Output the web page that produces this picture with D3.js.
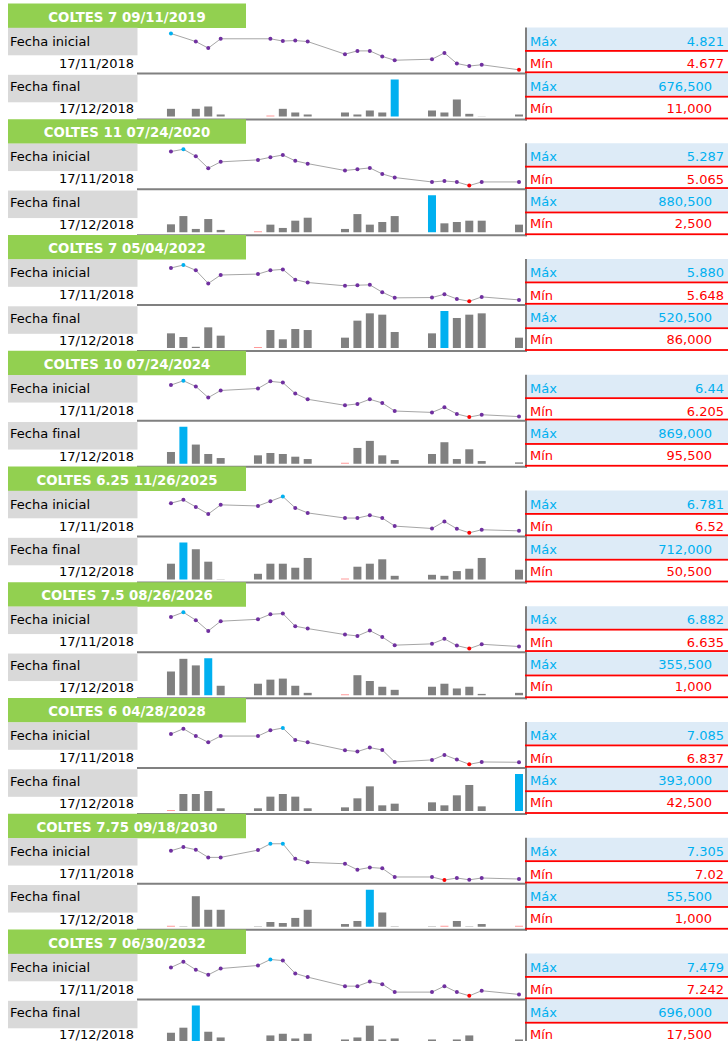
<!DOCTYPE html>
<html lang="es">
<head>
<meta charset="UTF-8">
<title>COLTES - precios y volúmenes</title>
<script src="https://d3js.org/d3.v7.min.js"></script>
<style>
  body { margin: 0; background: #fff; }
  svg { display: block; font-family: "DejaVu Sans", sans-serif; }
</style>
</head>
<body>
<svg id="chart" width="728" height="1041"></svg>
<script>
// titulos de cada bono
const titulos = [
  "COLTES 7 09/11/2019", "COLTES 11 07/24/2020", "COLTES 7 05/04/2022",
  "COLTES 10 07/24/2024", "COLTES 6.25 11/26/2025", "COLTES 7.5 08/26/2026",
  "COLTES 6 04/28/2028", "COLTES 7.75 09/18/2030", "COLTES 7 06/30/2032"
]

const fechaInicial = "2018-11-17"
const fechaFinal = "2018-12-17"

// dias habiles con datos
const fechas = [
  "2018-11-19", "2018-11-20", "2018-11-21", "2018-11-22", "2018-11-23",
  "2018-11-26", "2018-11-27", "2018-11-28", "2018-11-29", "2018-11-30",
  "2018-12-03", "2018-12-04", "2018-12-05", "2018-12-06", "2018-12-07",
  "2018-12-10", "2018-12-11", "2018-12-12", "2018-12-13", "2018-12-14",
  "2018-12-17"
]

// tasas (una fila por bono, null = sin dato)
const precios = [
  [4.821, null, 4.789, 4.763, 4.800, null, 4.800, 4.791, 4.793, 4.789, 4.739, 4.752, 4.752, 4.730, 4.715, 4.719, 4.744, 4.702, 4.692, 4.697, 4.677],
  [5.273, 5.287, 5.244, 5.171, 5.210, 5.222, 5.238, 5.252, 5.216, 5.199, 5.157, 5.165, 5.173, 5.136, 5.114, 5.087, 5.093, 5.087, 5.065, 5.087, 5.087],
  [5.861, 5.880, 5.846, 5.762, 5.816, 5.822, 5.846, 5.852, 5.786, 5.768, 5.747, 5.751, 5.753, 5.706, 5.670, 5.672, 5.693, 5.663, 5.648, 5.676, 5.657],
  [6.412, 6.44, 6.403, 6.331, 6.377, 6.390, 6.436, 6.428, 6.357, 6.320, 6.281, 6.290, 6.320, 6.296, 6.244, 6.235, 6.268, 6.225, 6.205, 6.220, 6.208],
  [6.733, 6.757, 6.706, 6.655, 6.721, 6.713, 6.747, 6.781, 6.699, 6.663, 6.626, 6.626, 6.646, 6.626, 6.568, 6.551, 6.602, 6.549, 6.52, 6.542, 6.534],
  [6.850, 6.882, 6.828, 6.755, 6.821, 6.834, 6.868, 6.873, 6.787, 6.771, 6.730, 6.721, 6.757, 6.714, 6.658, 6.667, 6.701, 6.655, 6.635, 6.664, 6.649],
  [7.044, 7.080, 7.030, 6.987, 7.030, 7.030, 7.069, 7.085, 7.003, 6.987, 6.933, 6.924, 6.951, 6.935, 6.853, 6.867, 6.901, 6.869, 6.837, 6.853, 6.851],
  [7.250, 7.279, 7.258, 7.198, 7.198, 7.255, 7.305, 7.305, 7.187, 7.159, 7.148, 7.101, 7.119, 7.112, 7.044, 7.044, 7.02, 7.036, 7.022, 7.036, 7.028],
  [7.427, 7.464, 7.412, 7.379, 7.420, 7.440, 7.479, 7.472, 7.388, 7.364, 7.305, 7.305, 7.335, 7.318, 7.266, 7.266, 7.305, 7.266, 7.242, 7.275, 7.251]
]

// como se muestran los maximos y minimos de tasa en la tabla
const tasaMaxTxt = ["4.821", "5.287", "5.880", "6.44", "6.781", "6.882", "7.085", "7.305", "7.479"]
const tasaMinTxt = ["4.677", "5.065", "5.648", "6.205", "6.52", "6.635", "6.837", "7.02", "7.242"]

// volumenes negociados
const volumenes = [
  [149000, null, 149000, 191000, 47000, null, 11000, 149000, 83000, 47000, 83000, 47000, 119000, 83000, 676500, 119000, 83000, 317000, 59000, 14000, 47000],
  [190500, 386500, 81000, 316000, 57500, 2500, 183000, 104500, 277000, 347500, 81000, 433500, 183000, 245500, 386500, 880500, 214000, 245500, 277000, 277000, 183000],
  [258000, 215000, 100000, 328500, 231000, 86000, 297000, 188000, 309000, 297000, 207500, 407000, 493000, 477500, 274000, 258000, 520500, 438500, 477500, 493000, 207500],
  [341500, 869000, 496500, 299500, 215000, 271500, 320500, 299500, 243000, 194000, 95500, 426000, 573500, 271500, 173000, 299500, 545500, 194000, 398000, 152000, 123500],
  [333000, 712000, 591500, 369000, 55000, 152500, 333000, 333000, 261000, 435500, 50500, 279000, 333000, 411500, 116500, 134500, 116500, 201000, 243000, 435500, 225000],
  [228500, 350000, 287000, 355500, 92000, 111500, 150500, 160500, 92000, 24000, 1000, 193000, 137500, 82500, 53000, 82500, 111500, 66000, 82500, 14000, 24000],
  [42500, 203500, 203500, 232000, 68000, 68000, 178500, 203500, 178500, 68000, 77000, 162500, 276000, 96000, 112000, 124500, 96000, 191000, 289000, 86500, 393000],
  [1000, 1500, 46000, 26000, 26000, 1500, 8000, 6500, 14000, 26000, 5000, 9500, 55500, 22000, 1500, 1500, 1000, 9500, 1500, 5000, 1000],
  [196500, 289000, 696000, 215000, 110000, 20000, 147000, 178000, 91500, 178000, 73000, 110000, 326000, 73000, 91500, 73000, 20000, 73000, 147000, 17500, 73000]
]

const parse = d3.timeParse("%Y-%m-%d")
const fmtFecha = d3.timeFormat("%d/%m/%Y")
const fmtVol = d3.format(",")

const dias = fechas.map(parse)
const x = d3.scaleTime()
  .domain([parse(fechaInicial), parse(fechaFinal)])
  .range([146.1, 519])

const svg = d3.select("#chart")

const verde = "#92d050", grisClaro = "#d9d9d9", grisLinea = "#808080"
const cian = "#00b0f0", rojo = "#ff0000", morado = "#7030a0", azulClaro = "#ddebf7"

titulos.forEach(function (titulo, i) {
  const g = svg.append("g").attr("transform", "translate(0," + (4 + i * 115.75) + ")")
  const p = precios[i], v = volumenes[i]

  // lineas de separacion
  g.append("rect").attr("x", 137).attr("y", 68.5).attr("width", 390).attr("height", 2).attr("fill", grisLinea)
  g.append("rect").attr("x", 137).attr("y", 114.5).attr("width", 390).attr("height", 2).attr("fill", grisLinea)
  g.append("rect").attr("x", 525).attr("y", 23.5).attr("width", 2).attr("height", 93).attr("fill", grisLinea)

  // encabezado
  g.append("rect").attr("x", 8).attr("y", -0.5).attr("width", 238).attr("height", 24.5).attr("fill", verde)
  g.append("text").attr("x", 127).attr("y", 17.5).attr("text-anchor", "middle")
    .attr("fill", "#fff").attr("font-weight", "bold").attr("font-size", 13.3).text(titulo)

  // etiquetas de la izquierda
  g.append("rect").attr("x", 8).attr("y", 23.8).attr("width", 129.5).attr("height", 27.5).attr("fill", grisClaro)
  g.append("rect").attr("x", 8).attr("y", 70.8).attr("width", 129.5).attr("height", 27.5).attr("fill", grisClaro)
  const lab = [["Fecha inicial", 10, 41.7, "start"], [fmtFecha(x.domain()[0]), 134, 63.7, "end"],
               ["Fecha final", 10, 87, "start"], [fmtFecha(x.domain()[1]), 134, 109.3, "end"]]
  lab.forEach(function (l) {
    g.append("text").attr("x", l[1]).attr("y", l[2]).attr("text-anchor", l[3])
      .attr("font-size", 13).attr("fill", "#000").text(l[0])
  })

  // tabla de maximos y minimos
  const pMax = d3.max(p), pMin = d3.min(p), vMax = d3.max(v), vMin = d3.min(v)
  g.append("rect").attr("x", 527).attr("y", 23.5).attr("width", 201).attr("height", 22.5).attr("fill", azulClaro)
  g.append("rect").attr("x", 527).attr("y", 69.5).attr("width", 201).attr("height", 22.3).attr("fill", azulClaro)
  ;[46, 67.4, 91.8, 113.6].forEach(function (yy) {
    g.append("rect").attr("x", 525).attr("y", yy).attr("width", 203).attr("height", 1.8).attr("fill", rojo)
  })
  const filas = [["Máx", tasaMaxTxt[i], 41.7, 724, cian], ["Mín", tasaMinTxt[i], 64.3, 724, rojo],
                 ["Máx", fmtVol(vMax), 86.7, 712, cian], ["Mín", fmtVol(vMin), 108.7, 712, rojo]]
  filas.forEach(function (f) {
    g.append("text").attr("x", 530).attr("y", f[2]).attr("font-size", 13).attr("fill", f[4]).text(f[0])
    g.append("text").attr("x", f[3]).attr("y", f[2]).attr("text-anchor", "end")
      .attr("font-size", 13).attr("fill", f[4]).text(f[1])
  })

  // sparkline de tasas
  const yP = d3.scaleLinear().domain([pMin, pMax]).range([65.8, 29.5])
  const puntos = dias.map(function (d, k) { return { fecha: d, valor: p[k] } })
    .filter(function (d) { return d.valor != null })
  const linea = d3.line().x(function (d) { return x(d.fecha) }).y(function (d) { return yP(d.valor) })
  g.append("path").datum(puntos).attr("d", linea)
    .attr("fill", "none").attr("stroke", "#a6a6a6").attr("stroke-width", 1)
  g.selectAll(".pt").data(puntos).enter().append("circle")
    .attr("cx", function (d) { return x(d.fecha) })
    .attr("cy", function (d) { return yP(d.valor) })
    .attr("r", 2)
    .attr("fill", function (d) { return d.valor === pMax ? cian : d.valor === pMin ? rojo : morado })

  // columnas de volumen
  const yV = d3.scaleLinear().domain([vMin, vMax]).range([112.5, 75.5])
  const barras = dias.map(function (d, k) { return { fecha: d, valor: v[k] } })
    .filter(function (d) { return d.valor != null })
  g.selectAll(".bar").data(barras).enter().append("rect")
    .attr("x", function (d) { return x(d.fecha) - 4 })
    .attr("width", 8)
    .attr("y", function (d) { return d.valor === vMin ? yV(vMin) - 1 : yV(d.valor) })
    .attr("height", function (d) { return d.valor === vMin ? 1 : yV(vMin) - yV(d.valor) })
    .attr("fill", function (d) { return d.valor === vMax ? cian : d.valor === vMin ? rojo : grisLinea })
    .attr("fill-opacity", function (d) { return d.valor === vMin ? 0.4 : 1 })
})
</script>
</body>
</html>
